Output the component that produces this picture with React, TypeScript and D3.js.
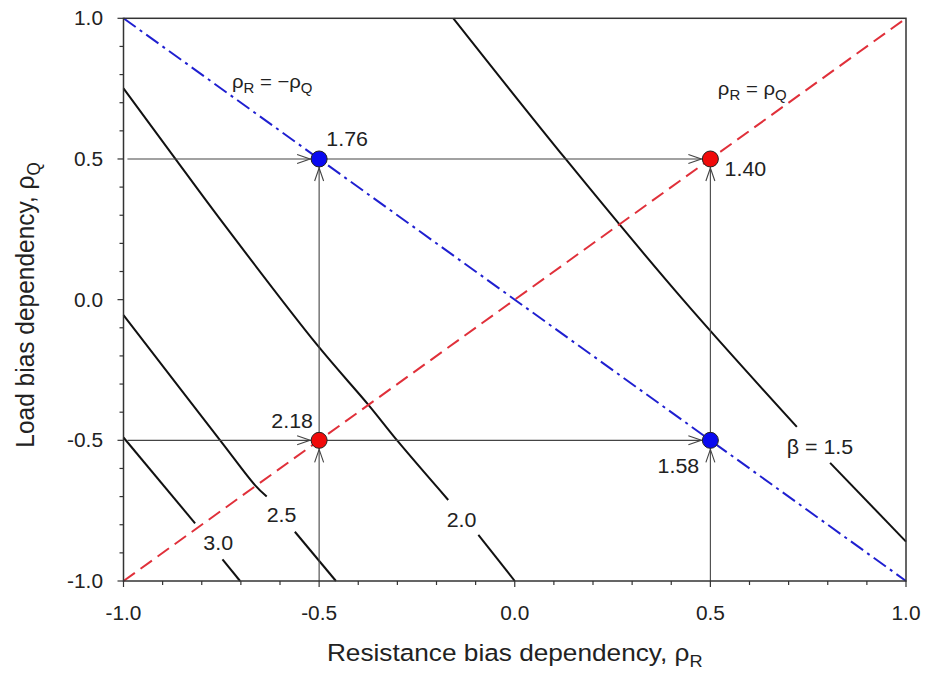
import React from "react";
import * as d3 from "d3";

// ---- data ----
const xTicks = [-1.0, -0.5, 0.0, 0.5, 1.0];
const yTicks = [-1.0, -0.5, 0.0, 0.5, 1.0];
const minorStep = 0.1;

// contour lines of reliability index beta, split where the label sits
const beta15A: [number, number][] = [[-0.157, 1.0], [0.13, 0.5], [0.43, 0.0], [0.721, -0.452]];
const beta15B: [number, number][] = [[0.806, -0.58], [1.0, -0.86]];
const beta20A: [number, number][] = [[-1.0, 0.751], [-0.873, 0.511], [-0.758, 0.295], [-0.505, -0.161], [-0.374, -0.374], [-0.298, -0.505], [-0.17, -0.712]];
const beta20B: [number, number][] = [[-0.093, -0.836], [0.0, -1.0]];
const beta25A: [number, number][] = [[-1.0, -0.055], [-0.749, -0.507], [-0.664, -0.659], [-0.634, -0.7]];
const beta25B: [number, number][] = [[-0.562, -0.825], [-0.457, -1.0]];
const beta30A: [number, number][] = [[-1.0, -0.49], [-0.817, -0.795]];
const beta30B: [number, number][] = [[-0.747, -0.923], [-0.702, -1.0]];

const contourLabels = [
  { text: "β = 1.5", x: 0.78, y: -0.523 },
  { text: "2.0", x: -0.136, y: -0.783 },
  { text: "2.5", x: -0.596, y: -0.765 },
  { text: "3.0", x: -0.758, y: -0.866 },
];

// design points: rhoR, rhoQ, beta, type
const pointR = [-0.5, 0.5, -0.5, 0.5];
const pointQ = [0.5, 0.5, -0.5, -0.5];
const pointBeta = ["1.76", "1.40", "2.18", "1.58"];
const pointKind = ["neg", "pos", "pos", "neg"];
const pointLabelOffset: [number, number][] = [[28, -20], [35, 10], [-27, -19], [-32, 26]];

// arrows: [fromR, fromQ, toR, toQ]
const arrows: [number, number, number, number][] = [
  [-0.99, 0.5, -0.5, 0.5],
  [-0.5, 0.5, 0.5, 0.5],
  [-0.99, -0.5, -0.5, -0.5],
  [-0.5, -0.5, 0.5, -0.5],
  [-0.5, -1.0, -0.5, -0.5],
  [-0.5, -0.5, -0.5, 0.5],
  [0.5, -1.0, 0.5, -0.5],
  [0.5, -0.5, 0.5, 0.5],
];

const W = 925;
const H = 684;
const left = 123.5, right = 906, top = 18.3, bottom = 581;
const SX = 1.07; // horizontal stretch of the reference text
const FONT = "'Liberation Sans', Arial, Helvetica, sans-serif";

const x = d3.scaleLinear().domain([-1, 1]).range([left, right]);
const y = d3.scaleLinear().domain([-1, 1]).range([bottom, top]);
const line = d3.line<[number, number]>().x(d => x(d[0])).y(d => y(d[1])).curve(d3.curveCatmullRom);

function T(props: { x: number; y: number; size: number; anchor?: string; rotate?: number; sx?: number; sy?: number; children: React.ReactNode; fill?: string }) {
  const { rotate = 0, sx = SX, sy = 1 } = props;
  return (
    <text
      transform={`translate(${props.x},${props.y}) rotate(${rotate}) scale(${sx},${sy})`}
      fontSize={props.size}
      fontFamily={FONT}
      textAnchor={props.anchor || "start"}
      fill={props.fill || "#222"}
    >
      {props.children}
    </text>
  );
}

export default function App() {
  const minorTicks = d3.range(-1, 1.0001, minorStep).map(v => Math.round(v * 10) / 10);
  const contours = [beta15A, beta15B, beta20A, beta20B, beta25A, beta25B, beta30A, beta30B];
  const R = 8;
  return (
    <svg width={W} height={H} style={{ position: "absolute", left: 0, top: 0, background: "#fff" }}>
      <rect x={0} y={0} width={W} height={H} fill="#fff" />
      {/* contour lines */}
      {contours.map((c, i) => (
        <path key={i} d={line(c) || ""} fill="none" stroke="#111" strokeWidth={2} />
      ))}
      {/* diagonals */}
      <line x1={x(-1)} y1={y(1)} x2={x(1)} y2={y(-1)} stroke="#1f1fd0" strokeWidth={2} strokeDasharray="15,5,3,5" />
      <line x1={x(-1)} y1={y(-1)} x2={x(1)} y2={y(1)} stroke="#e0303a" strokeWidth={2} strokeDasharray="14,7" />
      {/* arrows */}
      {arrows.map((a, i) => {
        const x1 = x(a[0]), y1 = y(a[1]), x2 = x(a[2]), y2 = y(a[3]);
        const dx = x2 - x1, dy = y2 - y1;
        const len = Math.hypot(dx, dy);
        const ux = dx / len, uy = dy / len;
        const tx = x2 - ux * (R + 1), ty = y2 - uy * (R + 1);
        const bx = tx - ux * 13, by = ty - uy * 13;
        const px = -uy * 4.5, py = ux * 4.5;
        return (
          <g key={i} stroke="#444" strokeWidth={1.1} fill="none">
            <line x1={x1} y1={y1} x2={x2} y2={y2} />
            <path d={`M${bx + px},${by + py} L${tx},${ty} L${bx - px},${by - py}`} />
          </g>
        );
      })}
      {/* frame */}
      <rect x={left} y={top} width={right - left} height={bottom - top} fill="none" stroke="#333" strokeWidth={1.5} />
      {/* ticks */}
      {minorTicks.map((v, i) => {
        const major = Math.abs(v * 2 - Math.round(v * 2)) < 1e-6;
        const len = major ? 6 : 4;
        return (
          <g key={i} stroke="#333" strokeWidth={1.2}>
            <line x1={x(v)} x2={x(v)} y1={bottom} y2={bottom + len} />
            <line x1={left} x2={left - len} y1={y(v)} y2={y(v)} />
          </g>
        );
      })}
      {xTicks.map((v, i) => (
        <T key={"xt" + i} x={x(v)} y={620} size={19.5} anchor="middle">{v.toFixed(1)}</T>
      ))}
      {yTicks.map((v, i) => (
        <T key={"yt" + i} x={103} y={y(v) + 7} size={19.5} anchor="end">{v.toFixed(1)}</T>
      ))}
      {/* axis titles */}
      <T x={(left + right) / 2} y={661} size={24.5} anchor="middle">
        Resistance bias dependency, ρ<tspan dy={6} fontSize={17}>R</tspan>
      </T>
      <T x={34} y={305} size={24.5} anchor="middle" rotate={-90} sx={1} sy={SX}>
        Load bias dependency, ρ<tspan dy={6} fontSize={17}>Q</tspan>
      </T>
      {/* contour labels */}
      {contourLabels.map((l, i) => (
        <T key={"cl" + i} x={x(l.x)} y={y(l.y) + 7} size={20} anchor="middle">{l.text}</T>
      ))}
      {/* diagonal labels */}
      <T x={x(-0.62)} y={y(0.77) + 5} size={19} anchor="middle">
        ρ<tspan dy={5} fontSize={14}>R</tspan><tspan dy={-5}> = −ρ</tspan><tspan dy={5} fontSize={14}>Q</tspan>
      </T>
      <T x={x(0.607)} y={y(0.745) + 5} size={19} anchor="middle">
        ρ<tspan dy={5} fontSize={14}>R</tspan><tspan dy={-5}> = ρ</tspan><tspan dy={5} fontSize={14}>Q</tspan>
      </T>
      {/* design points */}
      {pointR.map((r, i) => (
        <g key={"p" + i}>
          <circle cx={x(r)} cy={y(pointQ[i])} r={R} fill={pointKind[i] === "neg" ? "#0a0af0" : "#f00a0a"} stroke="#222" strokeWidth={1} />
          <T x={x(r) + pointLabelOffset[i][0]} y={y(pointQ[i]) + pointLabelOffset[i][1] + 7} size={20} anchor="middle">{pointBeta[i]}</T>
        </g>
      ))}
    </svg>
  );
}
